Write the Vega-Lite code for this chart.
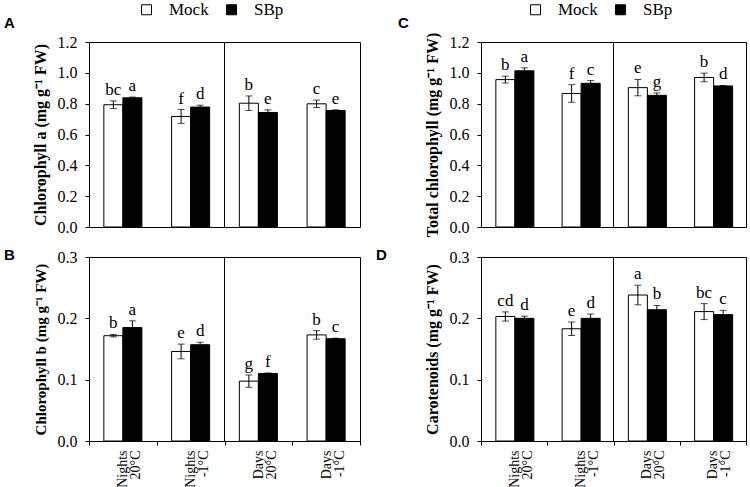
{
  "$schema": "https://vega.github.io/schema/vega-lite/v6.json",
  "padding": {"left": 3, "top": 0, "right": 3, "bottom": 3},
  "background": "white",
  "datasets": {
    "d": [
      {"panel": "A", "cond": "Nights 20°C", "trt": "Mock", "value": 0.793, "lo": 0.768, "hi": 0.818, "letter": "bc"},
      {"panel": "A", "cond": "Nights 20°C", "trt": "SBp", "value": 0.838, "lo": 0.833, "hi": 0.843, "letter": "a"},
      {"panel": "A", "cond": "Nights -1°C", "trt": "Mock", "value": 0.717, "lo": 0.672, "hi": 0.762, "letter": "f"},
      {"panel": "A", "cond": "Nights -1°C", "trt": "SBp", "value": 0.778, "lo": 0.766, "hi": 0.790, "letter": "d"},
      {"panel": "A", "cond": "Days 20°C", "trt": "Mock", "value": 0.803, "lo": 0.756, "hi": 0.850, "letter": "b"},
      {"panel": "A", "cond": "Days 20°C", "trt": "SBp", "value": 0.743, "lo": 0.726, "hi": 0.760, "letter": "e"},
      {"panel": "A", "cond": "Days -1°C", "trt": "Mock", "value": 0.799, "lo": 0.775, "hi": 0.823, "letter": "c"},
      {"panel": "A", "cond": "Days -1°C", "trt": "SBp", "value": 0.756, "lo": 0.752, "hi": 0.760, "letter": "e"},
      {"panel": "C", "cond": "Nights 20°C", "trt": "Mock", "value": 0.956, "lo": 0.934, "hi": 0.978, "letter": "b"},
      {"panel": "C", "cond": "Nights 20°C", "trt": "SBp", "value": 1.013, "lo": 0.993, "hi": 1.033, "letter": "a"},
      {"panel": "C", "cond": "Nights -1°C", "trt": "Mock", "value": 0.866, "lo": 0.809, "hi": 0.923, "letter": "f"},
      {"panel": "C", "cond": "Nights -1°C", "trt": "SBp", "value": 0.932, "lo": 0.914, "hi": 0.950, "letter": "c"},
      {"panel": "C", "cond": "Days 20°C", "trt": "Mock", "value": 0.904, "lo": 0.851, "hi": 0.957, "letter": "e"},
      {"panel": "C", "cond": "Days 20°C", "trt": "SBp", "value": 0.854, "lo": 0.838, "hi": 0.870, "letter": "g"},
      {"panel": "C", "cond": "Days -1°C", "trt": "Mock", "value": 0.970, "lo": 0.942, "hi": 0.998, "letter": "b"},
      {"panel": "C", "cond": "Days -1°C", "trt": "SBp", "value": 0.915, "lo": 0.912, "hi": 0.918, "letter": "d"},
      {"panel": "B", "cond": "Nights 20°C", "trt": "Mock", "value": 0.1717, "lo": 0.1697, "hi": 0.1737, "letter": "b"},
      {"panel": "B", "cond": "Nights 20°C", "trt": "SBp", "value": 0.185, "lo": 0.174, "hi": 0.196, "letter": "a"},
      {"panel": "B", "cond": "Nights -1°C", "trt": "Mock", "value": 0.146, "lo": 0.134, "hi": 0.158, "letter": "e"},
      {"panel": "B", "cond": "Nights -1°C", "trt": "SBp", "value": 0.157, "lo": 0.153, "hi": 0.161, "letter": "d"},
      {"panel": "B", "cond": "Days 20°C", "trt": "Mock", "value": 0.0976, "lo": 0.0876, "hi": 0.1076, "letter": "g"},
      {"panel": "B", "cond": "Days 20°C", "trt": "SBp", "value": 0.110, "lo": 0.109, "hi": 0.111, "letter": "f"},
      {"panel": "B", "cond": "Days -1°C", "trt": "Mock", "value": 0.173, "lo": 0.166, "hi": 0.180, "letter": "b"},
      {"panel": "B", "cond": "Days -1°C", "trt": "SBp", "value": 0.1667, "lo": 0.1657, "hi": 0.1677, "letter": "c"},
      {"panel": "D", "cond": "Nights 20°C", "trt": "Mock", "value": 0.203, "lo": 0.1955, "hi": 0.2105, "letter": "cd"},
      {"panel": "D", "cond": "Nights 20°C", "trt": "SBp", "value": 0.200, "lo": 0.1965, "hi": 0.2035, "letter": "d"},
      {"panel": "D", "cond": "Nights -1°C", "trt": "Mock", "value": 0.183, "lo": 0.172, "hi": 0.194, "letter": "e"},
      {"panel": "D", "cond": "Nights -1°C", "trt": "SBp", "value": 0.200, "lo": 0.193, "hi": 0.207, "letter": "d"},
      {"panel": "D", "cond": "Days 20°C", "trt": "Mock", "value": 0.238, "lo": 0.222, "hi": 0.254, "letter": "a"},
      {"panel": "D", "cond": "Days 20°C", "trt": "SBp", "value": 0.214, "lo": 0.207, "hi": 0.221, "letter": "b"},
      {"panel": "D", "cond": "Days -1°C", "trt": "Mock", "value": 0.211, "lo": 0.198, "hi": 0.224, "letter": "bc"},
      {"panel": "D", "cond": "Days -1°C", "trt": "SBp", "value": 0.206, "lo": 0.199, "hi": 0.213, "letter": "c"}
    ]
  },
  "config": {
    "view": {"stroke": "black", "strokeWidth": 1},
    "axis": {
      "domainColor": "black", "tickColor": "black", "labelColor": "black", "titleColor": "black",
      "grid": false, "labelFont": "Liberation Serif", "titleFont": "Liberation Serif",
      "tickSize": 4, "labelPadding": 8, "labelOverlap": false
    }
  },
  "resolve": {"legend": {"color": "independent"}},
  "columns": 2,
  "bounds": "flush",
  "spacing": {"row": 30, "column": 121},
  "concat": [
    {
      "width": 271, "height": 185,
      "title": {"text": "A", "anchor": "start", "frame": "group", "font": "Liberation Sans", "fontSize": 15, "fontWeight": "bold", "color": "black", "dx": -85, "dy": 52, "offset": 10, "baseline": "alphabetic"},
      "data": {"name": "d"},
      "transform": [{"filter": "datum.panel == 'A'"}],
      "encoding": {
        "x": {"field": "cond", "type": "nominal", "sort": ["Nights 20°C", "Nights -1°C", "Days 20°C", "Days -1°C"], "scale": {"paddingInner": 0, "paddingOuter": 0}, "axis": null}
      },
      "layer": [
        {
          "mark": {"type": "bar", "stroke": "black", "strokeWidth": 1},
          "encoding": {
            "xOffset": {"field": "trt", "sort": ["Mock", "SBp"], "scale": {"paddingInner": 0, "paddingOuter": 0.78}},
            "y": {"field": "value", "type": "quantitative", "scale": {"domain": [0, 1.2]}, "axis": {"values": [0, 0.2, 0.4, 0.6, 0.8, 1.0, 1.2], "tickCount": 7, "labelOverlap": false, "format": ".1f", "title": "Chlorophyll a (mg g⁻¹ FW)", "titleFontWeight": "bold", "titleFontSize": 16, "labelFontSize": 16, "titlePadding": 9}},
            "color": {"field": "trt", "type": "nominal", "scale": {"domain": ["Mock", "SBp"], "range": ["white", "black"]}, "legend": {"orient": "none", "legendX": 49, "legendY": -41, "direction": "horizontal", "title": null, "labelFont": "Liberation Serif", "labelFontSize": 17, "labelColor": "black", "symbolType": "square", "symbolSize": 100, "symbolStrokeColor": "black", "symbolStrokeWidth": 1, "labelOffset": 14, "columnPadding": 14}}
          }
        },
        {"mark": {"type": "rule", "color": "black"}, "encoding": {"xOffset": {"field": "trt", "sort": ["Mock", "SBp"]}, "y": {"field": "lo", "type": "quantitative", "axis": {"values": [0, 0.2, 0.4, 0.6, 0.8, 1.0, 1.2], "tickCount": 7, "labelOverlap": false, "format": ".1f", "title": "Chlorophyll a (mg g⁻¹ FW)", "titleFontWeight": "bold", "titleFontSize": 16, "labelFontSize": 16, "titlePadding": 9}}, "y2": {"field": "hi"}}},
        {"mark": {"type": "tick", "color": "black", "size": 7, "thickness": 1}, "encoding": {"xOffset": {"field": "trt", "sort": ["Mock", "SBp"]}, "y": {"field": "hi", "type": "quantitative", "axis": {"values": [0, 0.2, 0.4, 0.6, 0.8, 1.0, 1.2], "tickCount": 7, "labelOverlap": false, "format": ".1f", "title": "Chlorophyll a (mg g⁻¹ FW)", "titleFontWeight": "bold", "titleFontSize": 16, "labelFontSize": 16, "titlePadding": 9}}}},
        {"mark": {"type": "tick", "color": "black", "size": 7, "thickness": 1}, "encoding": {"xOffset": {"field": "trt", "sort": ["Mock", "SBp"]}, "y": {"field": "lo", "type": "quantitative", "axis": {"values": [0, 0.2, 0.4, 0.6, 0.8, 1.0, 1.2], "tickCount": 7, "labelOverlap": false, "format": ".1f", "title": "Chlorophyll a (mg g⁻¹ FW)", "titleFontWeight": "bold", "titleFontSize": 16, "labelFontSize": 16, "titlePadding": 9}}}},
        {"mark": {"type": "text", "baseline": "bottom", "dy": -2, "font": "Liberation Serif", "fontSize": 17, "color": "black"}, "encoding": {"xOffset": {"field": "trt", "sort": ["Mock", "SBp"]}, "y": {"field": "hi", "type": "quantitative", "axis": {"values": [0, 0.2, 0.4, 0.6, 0.8, 1.0, 1.2], "tickCount": 7, "labelOverlap": false, "format": ".1f", "title": "Chlorophyll a (mg g⁻¹ FW)", "titleFontWeight": "bold", "titleFontSize": 16, "labelFontSize": 16, "titlePadding": 9}}, "text": {"field": "letter"}}},
        {"transform": [{"filter": "datum.cond == 'Days 20°C' && datum.trt == 'Mock'"}], "mark": {"type": "rule", "color": "black", "strokeWidth": 1}, "encoding": {"x": {"field": "cond", "type": "nominal", "bandPosition": 0}}}
      ]
    },
    {
      "width": 265, "height": 185,
      "title": {"text": "C", "anchor": "start", "frame": "group", "font": "Liberation Sans", "fontSize": 15, "fontWeight": "bold", "color": "black", "dx": -83, "dy": 52, "offset": 10, "baseline": "alphabetic"},
      "data": {"name": "d"},
      "transform": [{"filter": "datum.panel == 'C'"}],
      "encoding": {
        "x": {"field": "cond", "type": "nominal", "sort": ["Nights 20°C", "Nights -1°C", "Days 20°C", "Days -1°C"], "scale": {"paddingInner": 0, "paddingOuter": 0}, "axis": null}
      },
      "layer": [
        {
          "mark": {"type": "bar", "stroke": "black", "strokeWidth": 1},
          "encoding": {
            "xOffset": {"field": "trt", "sort": ["Mock", "SBp"], "scale": {"paddingInner": 0, "paddingOuter": 0.78}},
            "y": {"field": "value", "type": "quantitative", "scale": {"domain": [0, 1.2]}, "axis": {"values": [0, 0.2, 0.4, 0.6, 0.8, 1.0, 1.2], "tickCount": 7, "labelOverlap": false, "format": ".1f", "title": "Total chlorophyll (mg g⁻¹ FW)", "titleFontWeight": "bold", "titleFontSize": 16, "labelFontSize": 16, "titlePadding": 9}},
            "color": {"field": "trt", "type": "nominal", "scale": {"domain": ["Mock", "SBp"], "range": ["white", "black"]}, "legend": {"orient": "none", "legendX": 46, "legendY": -41, "direction": "horizontal", "title": null, "labelFont": "Liberation Serif", "labelFontSize": 17, "labelColor": "black", "symbolType": "square", "symbolSize": 100, "symbolStrokeColor": "black", "symbolStrokeWidth": 1, "labelOffset": 14, "columnPadding": 14}}
          }
        },
        {"mark": {"type": "rule", "color": "black"}, "encoding": {"xOffset": {"field": "trt", "sort": ["Mock", "SBp"]}, "y": {"field": "lo", "type": "quantitative", "axis": {"values": [0, 0.2, 0.4, 0.6, 0.8, 1.0, 1.2], "tickCount": 7, "labelOverlap": false, "format": ".1f", "title": "Total chlorophyll (mg g⁻¹ FW)", "titleFontWeight": "bold", "titleFontSize": 16, "labelFontSize": 16, "titlePadding": 9}}, "y2": {"field": "hi"}}},
        {"mark": {"type": "tick", "color": "black", "size": 7, "thickness": 1}, "encoding": {"xOffset": {"field": "trt", "sort": ["Mock", "SBp"]}, "y": {"field": "hi", "type": "quantitative", "axis": {"values": [0, 0.2, 0.4, 0.6, 0.8, 1.0, 1.2], "tickCount": 7, "labelOverlap": false, "format": ".1f", "title": "Total chlorophyll (mg g⁻¹ FW)", "titleFontWeight": "bold", "titleFontSize": 16, "labelFontSize": 16, "titlePadding": 9}}}},
        {"mark": {"type": "tick", "color": "black", "size": 7, "thickness": 1}, "encoding": {"xOffset": {"field": "trt", "sort": ["Mock", "SBp"]}, "y": {"field": "lo", "type": "quantitative", "axis": {"values": [0, 0.2, 0.4, 0.6, 0.8, 1.0, 1.2], "tickCount": 7, "labelOverlap": false, "format": ".1f", "title": "Total chlorophyll (mg g⁻¹ FW)", "titleFontWeight": "bold", "titleFontSize": 16, "labelFontSize": 16, "titlePadding": 9}}}},
        {"mark": {"type": "text", "baseline": "bottom", "dy": -2, "font": "Liberation Serif", "fontSize": 17, "color": "black"}, "encoding": {"xOffset": {"field": "trt", "sort": ["Mock", "SBp"]}, "y": {"field": "hi", "type": "quantitative", "axis": {"values": [0, 0.2, 0.4, 0.6, 0.8, 1.0, 1.2], "tickCount": 7, "labelOverlap": false, "format": ".1f", "title": "Total chlorophyll (mg g⁻¹ FW)", "titleFontWeight": "bold", "titleFontSize": 16, "labelFontSize": 16, "titlePadding": 9}}, "text": {"field": "letter"}}},
        {"transform": [{"filter": "datum.cond == 'Days 20°C' && datum.trt == 'Mock'"}], "mark": {"type": "rule", "color": "black", "strokeWidth": 1}, "encoding": {"x": {"field": "cond", "type": "nominal", "bandPosition": 0}}}
      ]
    },
    {
      "width": 271, "height": 184,
      "title": {"text": "B", "anchor": "start", "frame": "group", "font": "Liberation Sans", "fontSize": 15, "fontWeight": "bold", "color": "black", "dx": -85, "dy": 26, "offset": 0, "baseline": "alphabetic"},
      "data": {"name": "d"},
      "transform": [{"filter": "datum.panel == 'B'"}],
      "encoding": {
        "x": {"field": "cond", "type": "nominal", "sort": ["Nights 20°C", "Nights -1°C", "Days 20°C", "Days -1°C"], "scale": {"paddingInner": 0, "paddingOuter": 0}, "axis": {"title": null, "labelAngle": 270, "labelAlign": "right", "labelBaseline": "middle", "labelExpr": "split(datum.label, ' ')", "labelFontSize": 14, "labelLineHeight": 13, "tickBand": "extent", "tickSize": 4, "labelPadding": 5}}
      },
      "layer": [
        {
          "mark": {"type": "bar", "stroke": "black", "strokeWidth": 1},
          "encoding": {
            "xOffset": {"field": "trt", "sort": ["Mock", "SBp"], "scale": {"paddingInner": 0, "paddingOuter": 0.78}},
            "y": {"field": "value", "type": "quantitative", "scale": {"domain": [0, 0.3]}, "axis": {"values": [0, 0.1, 0.2, 0.3], "tickCount": 4, "labelOverlap": false, "format": ".1f", "title": "Chlorophyll b (mg g⁻¹ FW)", "titleFontWeight": "bold", "titleFontSize": 15, "labelFontSize": 16, "titlePadding": 9}},
            "color": {"field": "trt", "type": "nominal", "scale": {"domain": ["Mock", "SBp"], "range": ["white", "black"]}, "legend": null}
          }
        },
        {"mark": {"type": "rule", "color": "black"}, "encoding": {"xOffset": {"field": "trt", "sort": ["Mock", "SBp"]}, "y": {"field": "lo", "type": "quantitative", "axis": {"values": [0, 0.1, 0.2, 0.3], "tickCount": 4, "labelOverlap": false, "format": ".1f", "title": "Chlorophyll b (mg g⁻¹ FW)", "titleFontWeight": "bold", "titleFontSize": 15, "labelFontSize": 16, "titlePadding": 9}}, "y2": {"field": "hi"}}},
        {"mark": {"type": "tick", "color": "black", "size": 7, "thickness": 1}, "encoding": {"xOffset": {"field": "trt", "sort": ["Mock", "SBp"]}, "y": {"field": "hi", "type": "quantitative", "axis": {"values": [0, 0.1, 0.2, 0.3], "tickCount": 4, "labelOverlap": false, "format": ".1f", "title": "Chlorophyll b (mg g⁻¹ FW)", "titleFontWeight": "bold", "titleFontSize": 15, "labelFontSize": 16, "titlePadding": 9}}}},
        {"mark": {"type": "tick", "color": "black", "size": 7, "thickness": 1}, "encoding": {"xOffset": {"field": "trt", "sort": ["Mock", "SBp"]}, "y": {"field": "lo", "type": "quantitative", "axis": {"values": [0, 0.1, 0.2, 0.3], "tickCount": 4, "labelOverlap": false, "format": ".1f", "title": "Chlorophyll b (mg g⁻¹ FW)", "titleFontWeight": "bold", "titleFontSize": 15, "labelFontSize": 16, "titlePadding": 9}}}},
        {"mark": {"type": "text", "baseline": "bottom", "dy": -2, "font": "Liberation Serif", "fontSize": 17, "color": "black"}, "encoding": {"xOffset": {"field": "trt", "sort": ["Mock", "SBp"]}, "y": {"field": "hi", "type": "quantitative", "axis": {"values": [0, 0.1, 0.2, 0.3], "tickCount": 4, "labelOverlap": false, "format": ".1f", "title": "Chlorophyll b (mg g⁻¹ FW)", "titleFontWeight": "bold", "titleFontSize": 15, "labelFontSize": 16, "titlePadding": 9}}, "text": {"field": "letter"}}},
        {"transform": [{"filter": "datum.cond == 'Days 20°C' && datum.trt == 'Mock'"}], "mark": {"type": "rule", "color": "black", "strokeWidth": 1}, "encoding": {"x": {"field": "cond", "type": "nominal", "bandPosition": 0}}}
      ]
    },
    {
      "width": 265, "height": 184,
      "title": {"text": "D", "anchor": "start", "frame": "group", "font": "Liberation Sans", "fontSize": 15, "fontWeight": "bold", "color": "black", "dx": -105, "dy": 26, "offset": 0, "baseline": "alphabetic"},
      "data": {"name": "d"},
      "transform": [{"filter": "datum.panel == 'D'"}],
      "encoding": {
        "x": {"field": "cond", "type": "nominal", "sort": ["Nights 20°C", "Nights -1°C", "Days 20°C", "Days -1°C"], "scale": {"paddingInner": 0, "paddingOuter": 0}, "axis": {"title": null, "labelAngle": 270, "labelAlign": "right", "labelBaseline": "middle", "labelExpr": "split(datum.label, ' ')", "labelFontSize": 14, "labelLineHeight": 13, "tickBand": "extent", "tickSize": 4, "labelPadding": 5}}
      },
      "layer": [
        {
          "mark": {"type": "bar", "stroke": "black", "strokeWidth": 1},
          "encoding": {
            "xOffset": {"field": "trt", "sort": ["Mock", "SBp"], "scale": {"paddingInner": 0, "paddingOuter": 0.78}},
            "y": {"field": "value", "type": "quantitative", "scale": {"domain": [0, 0.3]}, "axis": {"values": [0, 0.1, 0.2, 0.3], "tickCount": 4, "labelOverlap": false, "format": ".1f", "title": "Carotenoids (mg g⁻¹ FW)", "titleFontWeight": "bold", "titleFontSize": 16, "labelFontSize": 16, "titlePadding": 9}},
            "color": {"field": "trt", "type": "nominal", "scale": {"domain": ["Mock", "SBp"], "range": ["white", "black"]}, "legend": null}
          }
        },
        {"mark": {"type": "rule", "color": "black"}, "encoding": {"xOffset": {"field": "trt", "sort": ["Mock", "SBp"]}, "y": {"field": "lo", "type": "quantitative", "axis": {"values": [0, 0.1, 0.2, 0.3], "tickCount": 4, "labelOverlap": false, "format": ".1f", "title": "Carotenoids (mg g⁻¹ FW)", "titleFontWeight": "bold", "titleFontSize": 16, "labelFontSize": 16, "titlePadding": 9}}, "y2": {"field": "hi"}}},
        {"mark": {"type": "tick", "color": "black", "size": 7, "thickness": 1}, "encoding": {"xOffset": {"field": "trt", "sort": ["Mock", "SBp"]}, "y": {"field": "hi", "type": "quantitative", "axis": {"values": [0, 0.1, 0.2, 0.3], "tickCount": 4, "labelOverlap": false, "format": ".1f", "title": "Carotenoids (mg g⁻¹ FW)", "titleFontWeight": "bold", "titleFontSize": 16, "labelFontSize": 16, "titlePadding": 9}}}},
        {"mark": {"type": "tick", "color": "black", "size": 7, "thickness": 1}, "encoding": {"xOffset": {"field": "trt", "sort": ["Mock", "SBp"]}, "y": {"field": "lo", "type": "quantitative", "axis": {"values": [0, 0.1, 0.2, 0.3], "tickCount": 4, "labelOverlap": false, "format": ".1f", "title": "Carotenoids (mg g⁻¹ FW)", "titleFontWeight": "bold", "titleFontSize": 16, "labelFontSize": 16, "titlePadding": 9}}}},
        {"mark": {"type": "text", "baseline": "bottom", "dy": -2, "font": "Liberation Serif", "fontSize": 17, "color": "black"}, "encoding": {"xOffset": {"field": "trt", "sort": ["Mock", "SBp"]}, "y": {"field": "hi", "type": "quantitative", "axis": {"values": [0, 0.1, 0.2, 0.3], "tickCount": 4, "labelOverlap": false, "format": ".1f", "title": "Carotenoids (mg g⁻¹ FW)", "titleFontWeight": "bold", "titleFontSize": 16, "labelFontSize": 16, "titlePadding": 9}}, "text": {"field": "letter"}}},
        {"transform": [{"filter": "datum.cond == 'Days 20°C' && datum.trt == 'Mock'"}], "mark": {"type": "rule", "color": "black", "strokeWidth": 1}, "encoding": {"x": {"field": "cond", "type": "nominal", "bandPosition": 0}}}
      ]
    }
  ]
}
